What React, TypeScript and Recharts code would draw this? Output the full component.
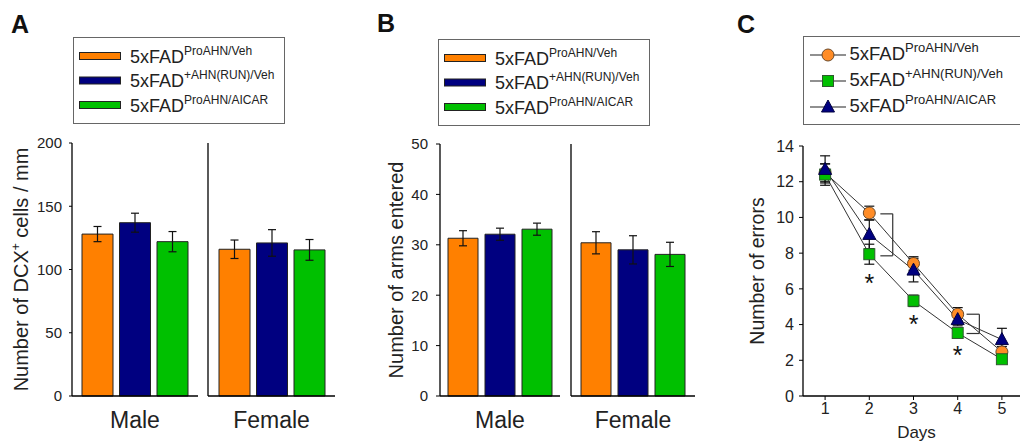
import React from 'react';
import {
  BarChart,
  Bar,
  XAxis,
  YAxis,
  ErrorBar,
  LineChart,
  Line,
  Legend,
  Label,
  ReferenceLine,
  ReferenceDot,
} from 'recharts';

// legend / group names
const prefix = '5xFAD';
const groups = ['ProAHN/Veh', '+AHN(RUN)/Veh', 'ProAHN/AICAR'];
const barColors = ['#FF8000', '#000080', '#00C000'];
const markerColors = ['#FF8C26', '#00C000', '#000080'];
const markerShapes = ['circle', 'square', 'triangle'];

// A: DCX+ cells / mm
const dcxMale = [128, 137, 122];
const dcxMaleSem = [6, 7.5, 8];
const dcxFemale = [116, 121, 115.5];
const dcxFemaleSem = [7.3, 10.5, 8.2];
const dcxTicks = [0, 50, 100, 150, 200];

// B: arms entered
const armsMale = [31.3, 32.1, 33.1];
const armsMaleSem = [1.5, 1.2, 1.2];
const armsFemale = [30.4, 29.0, 28.1];
const armsFemaleSem = [2.2, 2.8, 2.4];
const armsTicks = [0, 10, 20, 30, 40, 50];

// C: errors per day
const days = [1, 2, 3, 4, 5];
const errorsVeh = [12.5, 10.25, 7.42, 4.58, 2.47];
const errorsVehSem = [0.5, 0.38, 0.38, 0.37, 0.3];
const errorsRun = [12.4, 7.94, 5.33, 3.53, 2.06];
const errorsRunSem = [0.6, 0.56, 0.32, 0.25, 0.2];
const errorsAicar = [12.69, 9.05, 7.05, 4.28, 3.16];
const errorsAicarSem = [0.76, 0.8, 0.66, 0.35, 0.63];
const errorTicks = [0, 2, 4, 6, 8, 10, 12, 14];

// significance marks in C
const starDays = [2, 3, 4];
const starLevels = [6.6, 4.3, 2.55];
const bracketFrom = [2.25, 4.2];
const bracketTo = [2.53, 4.49];
const bracketHigh = [10.2, 4.58];
const bracketLow = [7.85, 3.5];

const barRow = (sex: string, means: number[], sems: number[]) => {
  const row: Record<string, any> = { sex };
  means.forEach((m, i) => {
    row['v' + i] = m;
    row['e' + i] = sems[i];
  });
  return [row];
};

const lineData = days.map((d, i) => ({
  day: d,
  s0: errorsVeh[i],
  e0: errorsVehSem[i],
  s1: errorsRun[i],
  e1: errorsRunSem[i],
  s2: errorsAicar[i],
  e2: errorsAicarSem[i],
}));

const seriesIndex = (entry: any) => Number(String(entry.dataKey).slice(1));

const BarLegend = (props: any) => {
  const items = props.payload || [];
  return (
    <svg width={212} height={88} style={{ display: 'block' }}>
      <rect x={0.5} y={0.5} width={211} height={86} fill="#fff" stroke="#666" />
      {items.map((it: any, k: number) => {
        const i = seriesIndex(it);
        const cy = 19 + 24.5 * k;
        return (
          <g key={String(it.dataKey)}>
            <rect x={6.5} y={cy - 3.5} width={41} height={7} fill={barColors[i]} stroke="#222" />
            <text x={57} y={cy + 6.5} fontSize={18} fill="#222">
              {prefix}
              <tspan fontSize={12} dy={-8}>{groups[i]}</tspan>
            </text>
          </g>
        );
      })}
    </svg>
  );
};

function Marker({ cx, cy, idx }: { cx?: number; cy?: number; idx: number }) {
  if (cx == null || cy == null) return null;
  const shape = markerShapes[idx];
  const color = markerColors[idx];
  if (shape === 'circle') {
    return <circle cx={cx} cy={cy} r={6} fill={color} stroke="#6b4a2a" strokeWidth={1} />;
  }
  if (shape === 'square') {
    return <rect x={cx - 5.5} y={cy - 5.5} width={11} height={11} fill={color} stroke="#2e5a2e" strokeWidth={1} />;
  }
  return (
    <polygon
      points={`${cx},${cy - 7} ${cx + 6.5},${cy + 5} ${cx - 6.5},${cy + 5}`}
      fill={color}
      stroke="#000040"
      strokeWidth={1}
    />
  );
}

const LineLegend = (props: any) => {
  const items = props.payload || [];
  return (
    <svg width={240} height={92} style={{ display: 'block' }}>
      <rect x={0.5} y={0.5} width={260} height={88} fill="#fff" stroke="#666" />
      {items.map((it: any, k: number) => {
        const i = seriesIndex(it);
        const cy = 19 + 26 * k;
        return (
          <g key={String(it.dataKey)}>
            <line x1={7} x2={43} y1={cy} y2={cy} stroke="#222" strokeWidth={1.2} />
            <Marker cx={25} cy={cy} idx={i} />
            <text x={46.5} y={cy + 5} fontSize={18.5} fill="#222">
              {prefix}
              <tspan fontSize={13} dy={-8}>{groups[i]}</tspan>
            </text>
          </g>
        );
      })}
    </svg>
  );
};

const yTitle = (main: string, sup: string, rest: string, x: number, fontSize: number) => (props: any) => {
  const vb = props.viewBox || { y: 0, height: 0 };
  const cy = vb.y + vb.height / 2;
  return (
    <text transform={`translate(${x},${cy}) rotate(-90)`} textAnchor="middle" fontSize={fontSize} fill="#222">
      {main}
      {sup ? <tspan fontSize={12} dy={-8}>{sup}</tspan> : null}
      {sup ? <tspan dy={8}>{rest}</tspan> : null}
    </text>
  );
};

interface SexBarsProps {
  left: number;
  width: number;
  data: any[];
  domain: [number, number];
  ticks: number[];
  main: boolean;
  margin: { top: number; right: number; bottom: number; left: number };
  yWidth: number;
  barSize: number;
  barGap: number;
  tickSize: number;
  tickMargin: number;
  title?: (props: any) => React.ReactElement;
  legendLeft?: number;
  legendTop?: number;
}

function SexBars({
  left,
  width,
  data,
  domain,
  ticks,
  main,
  margin,
  yWidth,
  barSize,
  barGap,
  tickSize,
  tickMargin,
  title,
  legendLeft,
  legendTop,
}: SexBarsProps) {
  return (
    <div style={{ position: 'absolute', left, top: 0 }}>
      <BarChart width={width} height={444} data={data} margin={margin} barSize={barSize} barGap={barGap}>
        <XAxis
          dataKey="sex"
          height={30}
          tickLine={false}
          tickSize={0}
          tickMargin={16}
          axisLine={{ stroke: '#000', strokeWidth: 1.3 }}
          tick={{ fontSize: 23, fill: '#222' }}
        />
        <YAxis
          domain={domain}
          ticks={ticks}
          interval={0}
          width={yWidth}
          tick={main ? { fontSize: 15, fill: '#222' } : false}
          tickSize={tickSize}
          tickMargin={tickMargin}
          axisLine={{ stroke: '#000', strokeWidth: 1.3 }}
          tickLine={{ stroke: '#000' }}
        >
          {title ? <Label content={title} /> : null}
        </YAxis>
        {groups.map((g, i) => (
          <Bar
            key={g}
            dataKey={'v' + i}
            name={g}
            fill={barColors[i]}
            stroke="#222"
            strokeWidth={1}
            isAnimationActive={false}
          >
            <ErrorBar dataKey={'e' + i} width={4} stroke="#111" strokeWidth={1.2} direction="y" />
          </Bar>
        ))}
        {main ? (
          <Legend
            layout="vertical"
            align="center"
            verticalAlign="middle"
            itemSorter="dataKey"
            wrapperStyle={{ left: legendLeft, top: legendTop, width: 212, height: 88 }}
            content={BarLegend}
          />
        ) : null}
      </BarChart>
    </div>
  );
}

const Star = (props: any) => (
  <text x={props.cx} y={props.cy + 14} textAnchor="middle" fontSize={25} fill="#111">
    *
  </text>
);

export default function App() {
  return (
    <div
      style={{
        position: 'fixed',
        left: 0,
        top: 0,
        width: 1020,
        height: 444,
        overflow: 'hidden',
        background: '#fff',
        fontFamily: '"Liberation Sans", Arial, sans-serif',
      }}
    >
      <svg width={1020} height={444} style={{ position: 'absolute', left: 0, top: 0 }}>
        <text x={11} y={33} fontSize={25} fontWeight="bold" fill="#111">A</text>
        <text x={377} y={32} fontSize={25} fontWeight="bold" fill="#111">B</text>
        <text x={737} y={33} fontSize={25} fontWeight="bold" fill="#111">C</text>
      </svg>

      {/* A */}
      <SexBars
        left={0}
        width={200}
        data={barRow('Male', dcxMale, dcxMaleSem)}
        domain={[0, 200]}
        ticks={dcxTicks}
        main
        margin={{ top: 143, right: 2, bottom: 18, left: 22 }}
        yWidth={50}
        barSize={31}
        barGap={6.5}
        tickSize={3}
        tickMargin={7}
        title={yTitle('Number of DCX', '+', ' cells / mm', 28, 20)}
        legendLeft={73}
        legendTop={37}
      />
      <SexBars
        left={200}
        width={140}
        data={barRow('Female', dcxFemale, dcxFemaleSem)}
        domain={[0, 200]}
        ticks={dcxTicks}
        main={false}
        margin={{ top: 143, right: 5, bottom: 18, left: 0 }}
        yWidth={8}
        barSize={31}
        barGap={6.5}
        tickSize={3}
        tickMargin={7}
      />

      {/* B */}
      <SexBars
        left={360}
        width={202}
        data={barRow('Male', armsMale, armsMaleSem)}
        domain={[0, 50]}
        ticks={armsTicks}
        main
        margin={{ top: 144, right: 2, bottom: 18, left: 36 }}
        yWidth={44}
        barSize={30}
        barGap={7}
        tickSize={4}
        tickMargin={8}
        title={yTitle('Number of arms entered', '', '', 43, 20)}
        legendLeft={78}
        legendTop={39}
      />
      <SexBars
        left={562}
        width={135}
        data={barRow('Female', armsFemale, armsFemaleSem)}
        domain={[0, 50]}
        ticks={armsTicks}
        main={false}
        margin={{ top: 144, right: 2, bottom: 18, left: 0 }}
        yWidth={9}
        barSize={30}
        barGap={7}
        tickSize={4}
        tickMargin={8}
      />

      {/* C */}
      <div style={{ position: 'absolute', left: 740, top: 0 }}>
        <LineChart width={290} height={444} data={lineData} margin={{ top: 146, right: 6, bottom: 18, left: 18 }}>
          <XAxis
            dataKey="day"
            type="number"
            domain={[0.5, 5.5]}
            ticks={days}
            interval={0}
            height={30}
            tickSize={4}
            tickMargin={3}
            axisLine={{ stroke: '#000', strokeWidth: 1.3 }}
            tickLine={{ stroke: '#000' }}
            tick={{ fontSize: 16, fill: '#222' }}
          >
            <Label value="Days" position="bottom" offset={0} dx={3} fontSize={17} fill="#222" />
          </XAxis>
          <YAxis
            domain={[0, 14]}
            ticks={errorTicks}
            interval={0}
            width={45}
            tickSize={4}
            tickMargin={5}
            axisLine={{ stroke: '#000', strokeWidth: 1.3 }}
            tickLine={{ stroke: '#000' }}
            tick={{ fontSize: 16, fill: '#222' }}
          >
            <Label content={yTitle('Number of errors', '', '', 24, 19.5)} />
          </YAxis>
          {bracketFrom.map((x0, k) => (
            <ReferenceLine
              key={'bt' + k}
              segment={[
                { x: x0, y: bracketHigh[k] },
                { x: bracketTo[k], y: bracketHigh[k] },
              ]}
              stroke="#333"
              strokeWidth={1.2}
            />
          ))}
          {bracketFrom.map((x0, k) => (
            <ReferenceLine
              key={'bv' + k}
              segment={[
                { x: bracketTo[k], y: bracketHigh[k] },
                { x: bracketTo[k], y: bracketLow[k] },
              ]}
              stroke="#333"
              strokeWidth={1.2}
            />
          ))}
          {bracketFrom.map((x0, k) => (
            <ReferenceLine
              key={'bb' + k}
              segment={[
                { x: x0, y: bracketLow[k] },
                { x: bracketTo[k], y: bracketLow[k] },
              ]}
              stroke="#333"
              strokeWidth={1.2}
            />
          ))}
          {starDays.map((d, k) => (
            <ReferenceDot key={'st' + k} x={d} y={starLevels[k]} shape={Star} />
          ))}
          {groups.map((g, i) => (
            <Line
              key={g}
              dataKey={'s' + i}
              name={g}
              stroke="#333"
              strokeWidth={1}
              isAnimationActive={false}
              activeDot={false}
              dot={(p: any) => <Marker key={'m' + i + '-' + p.index} cx={p.cx} cy={p.cy} idx={i} />}
            >
              <ErrorBar dataKey={'e' + i} width={5} stroke="#111" strokeWidth={1.2} direction="y" />
            </Line>
          ))}
          <Legend
            layout="vertical"
            align="center"
            verticalAlign="middle"
            itemSorter="dataKey"
            wrapperStyle={{ left: 63, top: 36, width: 240, height: 92 }}
            content={LineLegend}
          />
        </LineChart>
      </div>
    </div>
  );
}
